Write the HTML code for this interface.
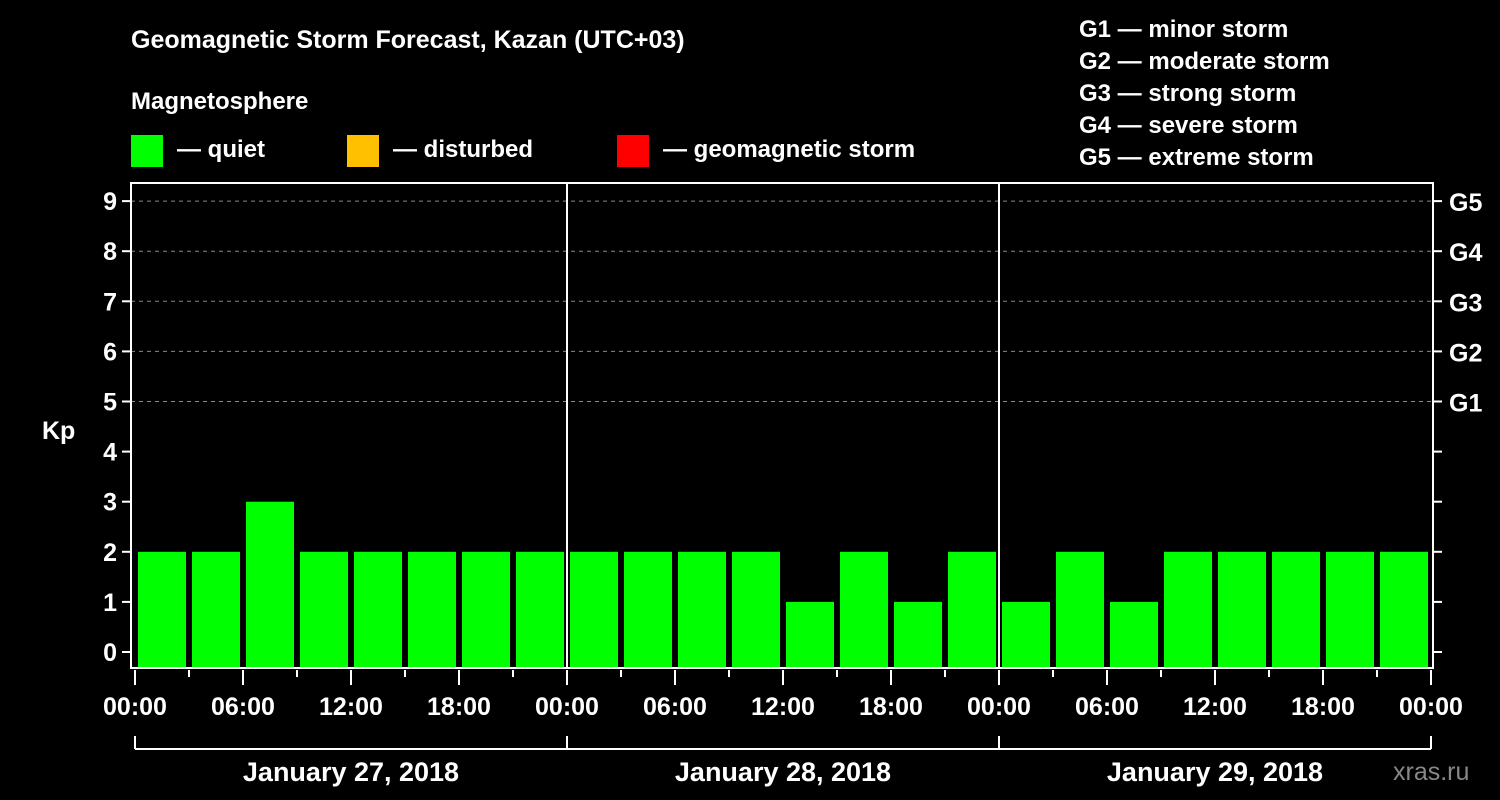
<!DOCTYPE html>
<html><head><meta charset="utf-8"><style>
html,body{margin:0;padding:0;background:#000;}
svg{display:block;font-family:"Liberation Sans",sans-serif;font-weight:bold;}
</style></head><body>
<svg id="chart" width="1500" height="800" viewBox="0 0 1500 800">
<rect width="1500" height="800" fill="#000"/>
<text x="131" y="48" fill="#fff" font-size="25">Geomagnetic Storm Forecast, Kazan (UTC+03)</text>
<text x="131" y="109" fill="#fff" font-size="24">Magnetosphere</text>
<g><rect x="131" y="135" width="32" height="32" fill="#00ff00"/><text x="177" y="157" fill="#fff" font-size="24">— quiet</text></g>
<g><rect x="347" y="135" width="32" height="32" fill="#ffc000"/><text x="393" y="157" fill="#fff" font-size="24">— disturbed</text></g>
<g><rect x="617" y="135" width="32" height="32" fill="#ff0000"/><text x="663" y="157" fill="#fff" font-size="24">— geomagnetic storm</text></g>
<g fill="#fff" font-size="24">
<text x="1079" y="37">G1 — minor storm</text>
<text x="1079" y="69">G2 — moderate storm</text>
<text x="1079" y="101">G3 — strong storm</text>
<text x="1079" y="133">G4 — severe storm</text>
<text x="1079" y="165">G5 — extreme storm</text>
</g>
<text x="42" y="439" fill="#fff" font-size="25">Kp</text>
<text x="1393" y="780" fill="#888" font-size="25" font-weight="normal">xras.ru</text>
<g id="grid"></g><g id="bars"></g><g id="axes"></g>
</svg>
<script>
const kpValues = [2,2,3,2,2,2,2,2, 2,2,2,2,1,2,1,2, 1,2,1,2,2,2,2,2];
const yTicks = [0,1,2,3,4,5,6,7,8,9];
const gLabels = ["G1","G2","G3","G4","G5"];
const gLevels = [5,6,7,8,9];
const xTickLabels = ["00:00","06:00","12:00","18:00"];
const dayLabels = ["January 27, 2018","January 28, 2018","January 29, 2018"];

const NS="http://www.w3.org/2000/svg";
const L=131,R=1433,T=183,B=668,X0=135,DAY=432;
const y=v=>652-v*50.1;
const x=h=>X0+h*DAY/24;
function mk(tag,attrs,parent,txt){const e=document.createElementNS(NS,tag);for(const k in attrs)e.setAttribute(k,attrs[k]);if(txt!==undefined)e.textContent=txt;document.getElementById(parent).appendChild(e);return e;}

gLevels.forEach((g,i)=>{
 const ln=mk('line',{x1:L,x2:R,y1:y(g),y2:y(g),stroke:'#888','stroke-dasharray':'4,4','stroke-width':1},'grid');
 
 
});
kpValues.forEach((v,i)=>{
 const r=mk('rect',{x:x(i*3)+3,y:y(v),width:48,height:B-y(v),fill:'#00ff00'},'bars');
 
 
});
mk('rect',{x:L,y:T,width:R-L,height:B-T,fill:'none',stroke:'#fff','stroke-width':2},'axes');
for(let d=1;d<dayLabels.length;d++){
 const sep=mk('line',{x1:x(d*24),x2:x(d*24),y1:T,y2:B,stroke:'#fff','stroke-width':2},'axes');
 
 
}
yTicks.forEach(t=>{
 mk('line',{x1:L-9,x2:L,y1:y(t),y2:y(t),stroke:'#fff','stroke-width':2},'axes');
 mk('line',{x1:R,x2:R+9,y1:y(t),y2:y(t),stroke:'#fff','stroke-width':2},'axes');
 const tl=mk('text',{x:L-14,y:y(t)+9,fill:'#fff','font-size':25,'text-anchor':'end'},'axes',String(t));
 
 
});
gLevels.forEach((g,i)=>{
 const tl=mk('text',{x:1449,y:y(g)+10,fill:'#fff','font-size':25},'axes',gLabels[i]);
 
 
});
for(let h=0;h<=72;h+=3){
 const major=h%6===0;
 mk('line',{x1:x(h),x2:x(h),y1:B+2,y2:B+(major?17:9),stroke:'#fff','stroke-width':2},'axes');
 if(major){
  const tl=mk('text',{x:x(h),y:715,fill:'#fff','font-size':25,'text-anchor':'middle'},'axes',xTickLabels[(h%24)/6]);
  
  
 }
}
mk('line',{x1:x(0),x2:x(72),y1:749,y2:749,stroke:'#fff','stroke-width':2},'axes');
for(let d=0;d<=dayLabels.length;d++) mk('line',{x1:x(d*24),x2:x(d*24),y1:736,y2:749,stroke:'#fff','stroke-width':2},'axes');
dayLabels.forEach((s,d)=>{
 const tl=mk('text',{x:x(d*24+12),y:781,fill:'#fff','font-size':27,'text-anchor':'middle'},'axes',s);
 
 
});
</script>
</body></html>
